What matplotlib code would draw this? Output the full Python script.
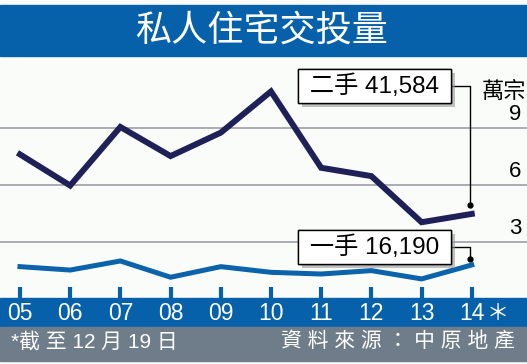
import matplotlib
matplotlib.use("Agg")
import matplotlib.pyplot as plt
import matplotlib.patheffects as pe
from matplotlib.patches import Rectangle

plt.rcParams['font.family'] = ['Liberation Sans', 'Noto Sans CJK TC']

# data (萬宗)
years = ["05", "06", "07", "08", "09", "10", "11", "12", "13", "14"]
secondary = [7.62, 5.97, 9.07, 7.53, 8.77, 10.95, 6.91, 6.47, 4.03, 4.47]
primary = [1.68, 1.50, 1.98, 1.12, 1.68, 1.38, 1.29, 1.47, 1.03, 1.77]
yticks = [3, 6, 9]
sec_label = "二手 41,584"
pri_label = "一手 16,190"

blue = '#0761AA'
navy = '#1F2058'
lineblue = '#0B63AB'
grey = '#6E7D89'

fig = plt.figure(figsize=(5.27, 3.64), dpi=100, facecolor='#FAFCFA')
ax = fig.add_axes([0, 0, 1, 1])
ax.set_facecolor('none')
ax.set_xlim(-0.398, 10.1)
ax.set_ylim(-3.471, 15.788)
ax.axis('off')

# bands
ax.add_patch(Rectangle((0, 0.846), 1, 0.14, transform=ax.transAxes,
                       color=blue, zorder=0, clip_on=False))
ax.add_patch(Rectangle((0, 0.1016), 1, 0.08, transform=ax.transAxes,
                       color=blue, zorder=0, clip_on=False))
ax.add_patch(Rectangle((0, 0.008), 1, 0.0936, transform=ax.transAxes,
                       color=grey, zorder=0, clip_on=False))

ax.text(0.497, 0.917, "私人住宅交投量", transform=ax.transAxes, ha='center',
        va='center', color='white', fontsize=26, family='Noto Sans CJK TC')

# grid + y labels
for v in yticks:
    ax.axhline(v, color='#A3A6AD', lw=1.3, zorder=1)
    ax.text(0.989, v + 0.15, str(v), transform=ax.get_yaxis_transform(),
            ha='right', va='bottom', fontsize=16)
ax.text(0.998, 0.747, "萬宗", transform=ax.transAxes, ha='right', va='center',
        fontsize=16)

# x ticks and labels
xs = list(range(len(years)))
ax.vlines(xs, -0.3, 0.6, color=blue, lw=3, zorder=1)
for x, lab in zip(xs, years):
    ax.text(x, 0.14, lab, transform=ax.get_xaxis_transform(), ha='center',
            va='center', color='white', fontsize=16.5)
ax.annotate("＊", (xs[-1], 0.14), xycoords=ax.get_xaxis_transform(),
            xytext=(11, 0), textcoords='offset points', ha='left', va='center',
            color='white', fontsize=16, family='Noto Sans CJK TC')

# lines
ax.plot(xs, secondary, color=navy, lw=4.3, solid_joinstyle='miter', zorder=3)
ax.plot(xs, primary, color=lineblue, lw=3.6, solid_joinstyle='miter', zorder=3)

# callouts
for lab, vals, ty, dy in [(sec_label, secondary, 11.24, 0.45),
                          (pri_label, primary, 2.73, 0.32)]:
    tip = (xs[-1] - 0.04, vals[-1] + dy)
    ax.plot(*tip, 'o', color='black', ms=3.5, zorder=4)
    t = ax.annotate(" " + lab + " ", tip, xytext=(7.06, ty), ha='center',
                    va='center', fontsize=17.5, zorder=5,
                    bbox=dict(boxstyle='square,pad=0.22', fc='white',
                              ec='black', lw=1),
                    arrowprops=dict(arrowstyle='-', color='black', lw=1,
                                    shrinkA=0, shrinkB=0,
                                    connectionstyle='angle,angleA=0,angleB=90,rad=0'))
    t.get_bbox_patch().set_path_effects(
        [pe.withSimplePatchShadow(offset=(3, -3), shadow_rgbFace='#999999',
                                  alpha=0.6), pe.Normal()])

# footer
ax.text(0.02, 0.062, "*截 至 12 月 19 日", transform=ax.transAxes, ha='left',
        va='center', color='white', fontsize=15)
ax.text(0.977, 0.062, "資 料 來 源 ： 中 原 地 產", transform=ax.transAxes,
        ha='right', va='center', color='white', fontsize=15)

fig.savefig('out.png', dpi=100, facecolor=fig.get_facecolor())
